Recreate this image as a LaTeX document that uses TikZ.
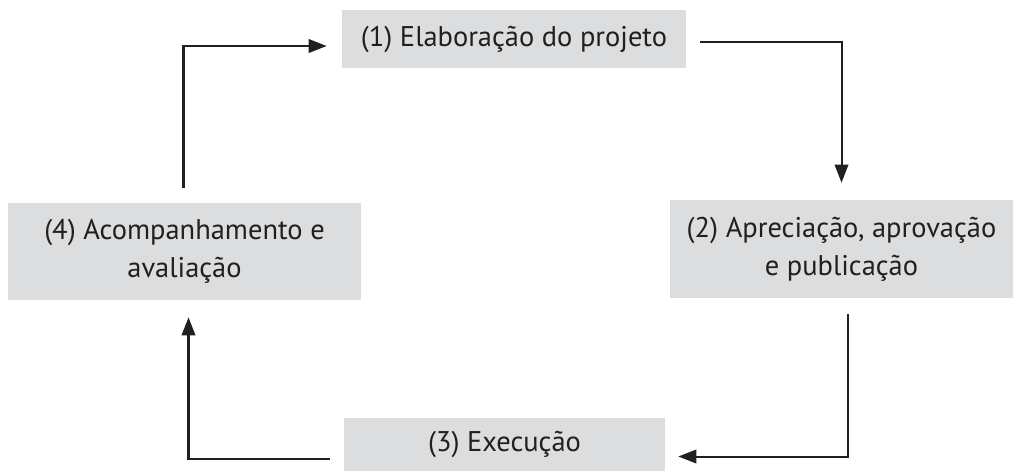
\documentclass[tikz,border=0pt]{standalone}
\usepackage{fontspec}
\setmainfont{PT Sans}
\usetikzlibrary{arrows.meta,calc}
\definecolor{caixa}{HTML}{DCDDDE}
\definecolor{tinta}{HTML}{231F20}

\begin{document}
\begin{tikzpicture}[x=0.02cm,y=-0.02cm,
    etapa/.style={fill=caixa, text=tinta, inner sep=0pt, align=center,
      font=\fontsize{16.2}{21.5}\selectfont},
    seta/.style={-{Triangle[length=0.36cm,width=0.27cm]}, line width=1.15pt, tinta},
]

\useasboundingbox (0,0) rectangle (1013,471);

\node [etapa, minimum width=6.88cm, minimum height=1.16cm] (E1) at (514,39)
  {(1) Elaboração do projeto};
\node [etapa, minimum width=6.86cm, minimum height=1.96cm] (E2) at (841.5,249)
  {(2) Apreciação, aprovação\\e publicação};
\node [etapa, minimum width=6.42cm, minimum height=1.06cm] (E3) at (504.5,444.5)
  {(3) Execução};
\node [etapa, minimum width=7.06cm, minimum height=1.94cm] (E4) at (184.5,251.5)
  {(4) Acompanhamento e\\avaliação};

\coordinate (A) at ($(E1.east)+(14,3)$);
\coordinate (B) at ($(E2.north)+(0,-17)$);
\draw [seta] (A) -| (B);

\coordinate (C) at ($(E2.south)+(6,16)$);
\coordinate (D) at ($(E3.east)+(13,12)$);
\draw [seta] (C) |- (D);

\coordinate (F) at ($(E3.west)+(-14,14)$);
\coordinate (G) at ($(E4.south)+(4,17)$);
\draw [seta] (F) -| (G);

\coordinate (H) at ($(E4.north)+(-1,-15)$);
\coordinate (K) at ($(E1.west)+(-15,7)$);
\draw [seta] (H) |- (K);

\end{tikzpicture}
\end{document}
